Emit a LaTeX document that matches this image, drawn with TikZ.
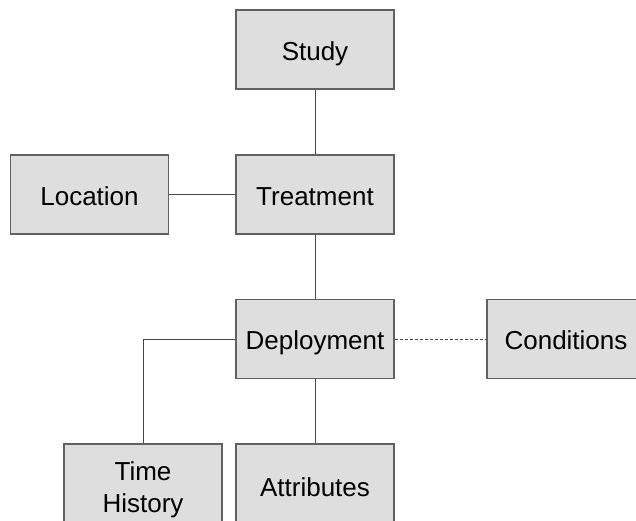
\documentclass[tikz,border=0pt]{standalone}
\usepackage{fontspec}
\setmainfont{Liberation Sans}
\begin{document}
\begin{tikzpicture}[x=1pt,y=-1pt,
  entity/.style={draw=black!62, line width=1.3pt, fill=black!13,
    minimum width=158pt, minimum height=79pt, inner sep=0pt,
    text height=21pt, text depth=0pt,
    font=\fontsize{26}{32}\selectfont, align=center},
  link/.style={draw=black!72, line width=1pt},
  weaklink/.style={draw=black!72, line width=0.9pt, dash pattern=on 3pt off 2pt}]
\useasboundingbox (0,0) rectangle (636,520);
\clip (0,0) rectangle (636,520);
\fill[white] (0,0) rectangle (636,520);

% entities
\node[entity] (study) at (315,49.5) {Study};
\node[entity] (treat) at (315,194.5) {Treatment};
\node[entity] (loc) at (89.5,194.5) {Location};
\node[entity] (deploy) at (315,339) {Deployment};
\node[entity] (cond) at (566,339) {Conditions};
\node[entity, minimum height=84pt, text height=53pt] (time) at (143,486) {Time\\History};
\node[entity, minimum height=84pt] (attr) at (315,486) {Attributes};

% relationships
\draw[link] (study) -- (treat);
\draw[link] (loc) -- (treat);
\draw[link] (treat) -- (deploy);
\draw[link] (deploy.west) -| (time.north);
\draw[link] (deploy) -- (attr);
\draw[weaklink] (deploy) -- (cond);
\end{tikzpicture}
\end{document}
